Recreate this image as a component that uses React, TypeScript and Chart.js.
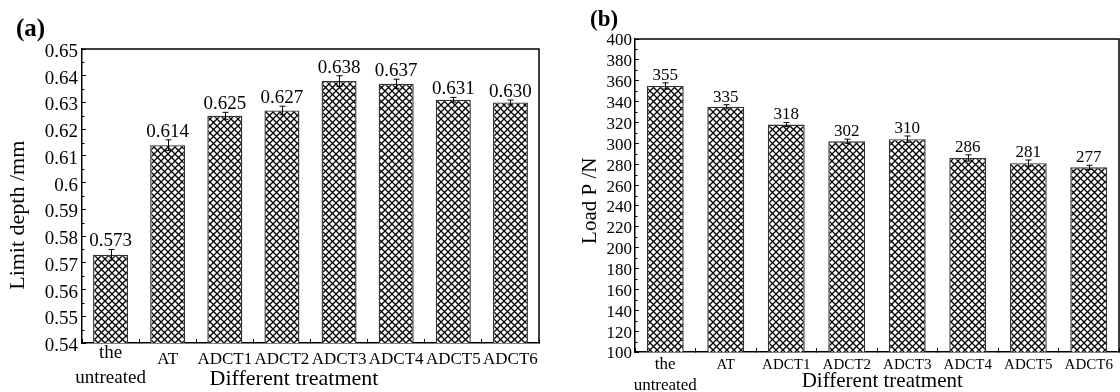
import React, { useEffect, useRef } from "react";
import { Chart, registerables } from "chart.js";

Chart.register(...registerables);

// ---------- data ----------
const categories: (string | string[])[] = [["the", "untreated"], "AT", "ADCT1", "ADCT2", "ADCT3", "ADCT4", "ADCT5", "ADCT6"];

const depthValues = [0.573, 0.614, 0.625, 0.627, 0.638, 0.637, 0.631, 0.630];
const depthErrors = [0.002, 0.002, 0.0013, 0.0016, 0.002, 0.0017, 0.0009, 0.0009];
const depthLabels = ["0.573", "0.614", "0.625", "0.627", "0.638", "0.637", "0.631", "0.630"];
const depthAxis = { min: 0.54, max: 0.65, step: 0.01 };

const loadValues = [355, 335, 318, 302, 304, 286, 281, 277];
const loadErrors = [3, 2, 2, 2, 3, 3, 3, 2];
const loadLabels = ["355", "335", "318", "302", "310", "286", "281", "277"];
const loadAxis = { min: 100, max: 400, step: 20 };

const FONT = "'Liberation Serif', 'Times New Roman', serif";

function makeHatch(): CanvasPattern | string {
  const s = 7;
  const c = document.createElement("canvas");
  c.width = s;
  c.height = s;
  const g = c.getContext("2d");
  if (!g) return "#fff";
  g.fillStyle = "#fff";
  g.fillRect(0, 0, s, s);
  g.strokeStyle = "#000";
  g.lineWidth = 1.3;
  g.beginPath();
  g.moveTo(-1, -1);
  g.lineTo(s + 1, s + 1);
  g.moveTo(-1, s + 1);
  g.lineTo(s + 1, -1);
  g.stroke();
  const p = g.createPattern(c, "repeat");
  return p || "#fff";
}

const decorPlugin = {
  id: "decor",
  afterDraw(chart: any, _args: any, opts: any) {
    const ctx: CanvasRenderingContext2D = chart.ctx;
    const y = chart.scales.y;
    const { left, right, top, bottom } = chart.chartArea;
    ctx.save();
    // minor ticks
    ctx.strokeStyle = "#000";
    ctx.lineWidth = 1;
    const ticks = y.ticks;
    for (let i = 0; i < ticks.length - 1; i++) {
      const v = (ticks[i].value + ticks[i + 1].value) / 2;
      const p = Math.round(y.getPixelForValue(v)) + 0.5;
      ctx.beginPath();
      ctx.moveTo(left, p);
      ctx.lineTo(left + 2.5, p);
      ctx.stroke();
    }
    // box top and right
    ctx.lineWidth = 1.5;
    ctx.beginPath();
    ctx.moveTo(left, top);
    ctx.lineTo(right, top);
    ctx.lineTo(right, bottom);
    ctx.stroke();
    // error bars and value labels
    const meta = chart.getDatasetMeta(0);
    const values: number[] = opts.values;
    const errors: number[] = opts.errors;
    const labels: string[] = opts.labels;
    ctx.lineWidth = 1;
    ctx.font = `${opts.labelSize}px ${FONT}`;
    ctx.fillStyle = "#000";
    ctx.textAlign = "center";
    ctx.textBaseline = "alphabetic";
    meta.data.forEach((bar: any, i: number) => {
      const x = Math.round(bar.x) + 0.5;
      const yTop = y.getPixelForValue(values[i] + errors[i]);
      const yBot = y.getPixelForValue(values[i] - errors[i]);
      ctx.beginPath();
      ctx.moveTo(x, yTop);
      ctx.lineTo(x, yBot);
      ctx.moveTo(x - 3, yTop);
      ctx.lineTo(x + 3, yTop);
      ctx.moveTo(x - 3, yBot);
      ctx.lineTo(x + 3, yBot);
      ctx.stroke();
      ctx.fillText(labels[i], bar.x, yTop - 3);
    });
    // panel letter
    ctx.font = `bold ${opts.panelSize}px ${FONT}`;
    ctx.textAlign = "left";
    ctx.fillText(opts.panel, opts.panelX, opts.panelY);
    ctx.restore();
  },
};

type PanelCfg = {
  values: number[];
  errors: number[];
  labels: string[];
  axis: { min: number; max: number; step: number };
  yTitle: string;
  xTitle: string;
  panel: string;
  panelX: number;
  panelY: number;
  panelSize: number;
  padTop: number;
  padRight: number;
  yWidth: number;
  xHeight: number;
  barPct: number;
  yTickSize: number;
  yTickOffset: number;
  yTickPad: number;
  labelSize: number;
  firstSize: number;
  firstLH: number;
  otherSize: number;
  otherLH: number;
  xTickPad: number;
  yTitleSize: number;
  yTitlePad: number;
  xTitleSize: number;
  xTitleLH: number;
  decimals: number;
};

function BarPanel({ cfg, width, height }: { cfg: PanelCfg; width: number; height: number }) {
  const ref = useRef<HTMLCanvasElement | null>(null);
  useEffect(() => {
    if (!ref.current) return;
    const chart = new Chart(ref.current, {
      type: "bar",
      data: {
        labels: categories,
        datasets: [
          {
            data: cfg.values,
            backgroundColor: makeHatch() as any,
            borderColor: "#333",
            borderWidth: 1.4,
            barPercentage: cfg.barPct,
            categoryPercentage: 1,
          },
        ],
      },
      options: {
        responsive: false,
        animation: false,
        devicePixelRatio: 1,
        layout: { padding: { top: cfg.padTop, right: cfg.padRight, left: 0, bottom: 0 } },
        plugins: {
          legend: { display: false },
          tooltip: { enabled: false },
          decor: {
            values: cfg.values,
            errors: cfg.errors,
            labels: cfg.labels,
            labelSize: cfg.labelSize,
            panel: cfg.panel,
            panelX: cfg.panelX,
            panelY: cfg.panelY,
            panelSize: cfg.panelSize,
          },
        } as any,
        scales: {
          x: {
            offset: true,
            grid: {
              display: true,
              offset: true,
              drawOnChartArea: false,
              drawTicks: true,
              tickLength: -4,
              color: "#000",
              lineWidth: 1,
            },
            border: { display: true, color: "#000", width: 1.5 },
            ticks: {
              autoSkip: false,
              maxRotation: 0,
              minRotation: 0,
              padding: cfg.xTickPad,
              color: "#000",
              font: (ctx: any) =>
                ctx.index === 0
                  ? { family: FONT, size: cfg.firstSize, lineHeight: cfg.firstLH }
                  : { family: FONT, size: cfg.otherSize, lineHeight: cfg.otherLH },
            },
            title: {
              display: true,
              text: cfg.xTitle,
              color: "#000",
              font: { family: FONT, size: cfg.xTitleSize, lineHeight: cfg.xTitleLH },
              padding: { top: 0, bottom: 0 },
            },
            afterFit: (s: any) => {
              s.height = cfg.xHeight;
            },
          },
          y: {
            min: cfg.axis.min,
            max: cfg.axis.max,
            grid: {
              display: true,
              drawOnChartArea: false,
              drawTicks: true,
              tickLength: -4,
              color: "#000",
              lineWidth: 1,
            },
            border: { display: true, color: "#000", width: 1.5 },
            ticks: {
              autoSkip: false,
              stepSize: cfg.axis.step,
              padding: cfg.yTickPad,
              labelOffset: cfg.yTickOffset,
              color: "#000",
              font: { family: FONT, size: cfg.yTickSize },
              callback: (v: any) => String(Number(Number(v).toFixed(cfg.decimals))),
            },
            title: {
              display: true,
              text: cfg.yTitle,
              color: "#000",
              font: { family: FONT, size: cfg.yTitleSize },
              padding: { top: cfg.yTitlePad, bottom: 0 },
            },
            afterFit: (s: any) => {
              s.width = cfg.yWidth;
            },
          },
        },
      },
      plugins: [decorPlugin],
    });
    return () => chart.destroy();
  }, [cfg]);
  return <canvas ref={ref} width={width} height={height} style={{ display: "block", width, height }} />;
}

const cfgA: PanelCfg = {
  values: depthValues,
  errors: depthErrors,
  labels: depthLabels,
  axis: depthAxis,
  yTitle: "Limit depth /mm       ",
  xTitle: "Different treatment      ",
  panel: "(a)",
  panelX: 16,
  panelY: 36,
  panelSize: 25,
  padTop: 49,
  padRight: 6,
  yWidth: 82,
  xHeight: 49,
  barPct: 0.613,
  yTickSize: 19,
  yTickOffset: 3,
  yTickPad: 8,
  labelSize: 19,
  firstSize: 19,
  firstLH: 1.32,
  otherSize: 17,
  otherLH: 2.35,
  xTickPad: 1,
  yTitleSize: 22,
  yTitlePad: 5,
  xTitleSize: 22,
  xTitleLH: 1.2,
  decimals: 2,
};

const cfgB: PanelCfg = {
  values: loadValues,
  errors: loadErrors,
  labels: loadLabels,
  axis: loadAxis,
  yTitle: "Load P /N  ",
  xTitle: "  Different treatment",
  panel: "(b)",
  panelX: 45,
  panelY: 26,
  panelSize: 23,
  padTop: 39,
  padRight: 1,
  yWidth: 90,
  xHeight: 40,
  barPct: 0.61,
  yTickSize: 17,
  yTickOffset: 2,
  yTickPad: 7,
  labelSize: 17,
  firstSize: 17,
  firstLH: 1.18,
  otherSize: 15,
  otherLH: 1.4,
  xTickPad: 7,
  yTitleSize: 21,
  yTitlePad: 33,
  xTitleSize: 21,
  xTitleLH: 1.0,
  decimals: 0,
};

export default function App() {
  return (
    <div style={{ position: "absolute", left: 0, top: 0, width: 1120, height: 392, background: "#fff" }}>
      <div style={{ position: "absolute", left: 0, top: 0 }}>
        <BarPanel cfg={cfgA} width={545} height={392} />
      </div>
      <div style={{ position: "absolute", left: 545, top: 0 }}>
        <BarPanel cfg={cfgB} width={575} height={392} />
      </div>
    </div>
  );
}
